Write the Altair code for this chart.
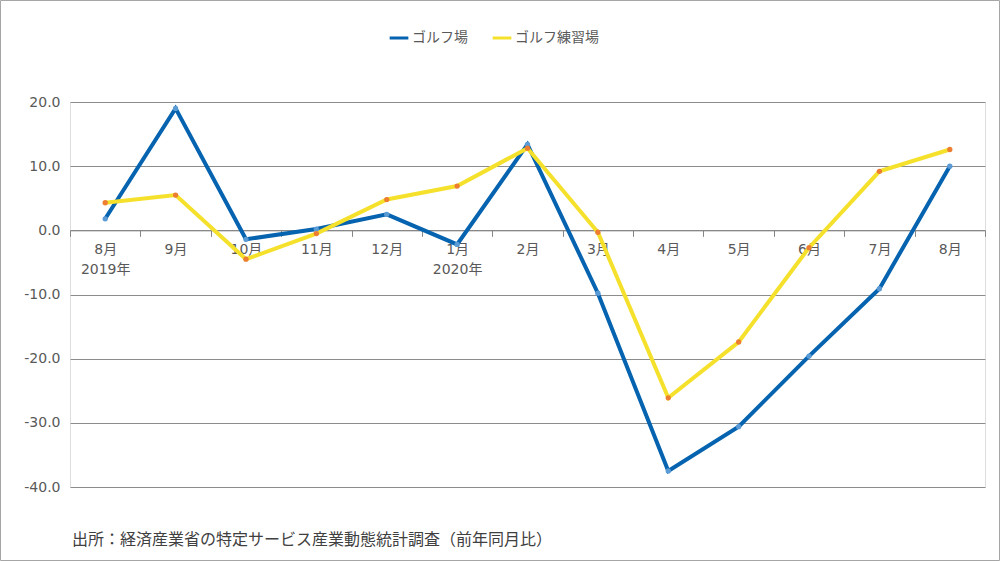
import altair as alt
import pandas as pd

# ---- data ----
months = ["2019-08", "2019-09", "2019-10", "2019-11", "2019-12", "2020-01", "2020-02",
          "2020-03", "2020-04", "2020-05", "2020-06", "2020-07", "2020-08"]
month_labels = ["8月", "9月", "10月", "11月", "12月", "1月", "2月",
                "3月", "4月", "5月", "6月", "7月", "8月"]
year_labels = ["2019年", "", "", "", "", "2020年", "", "", "", "", "", "", ""]
series_names = ["ゴルフ場", "ゴルフ練習場"]
golf_course = [1.8, 19.0, -1.4, 0.2, 2.5, -2.2, 13.4, -9.8, -37.5, -30.6, -19.6, -9.1, 10.0]
driving_range = [4.3, 5.5, -4.5, -0.5, 4.8, 6.9, 12.8, -0.3, -26.1, -17.4, -2.7, 9.2, 12.6]
y_ticks = [-40, -30, -20, -10, 0, 10, 20]
caption = "出所：経済産業省の特定サービス産業動態統計調査（前年同月比）"

rows = []
for name, vals in zip(series_names, [golf_course, driving_range]):
    for m, v in zip(months, vals):
        rows.append({"month": m, "series": name, "value": v})
df = pd.DataFrame(rows)

# label expression (month + optional year on second line)
expr = "''"
for m, ml, yl in zip(reversed(months), reversed(month_labels), reversed(year_labels)):
    lab = f"['{ml}','{yl}']" if yl else f"'{ml}'"
    expr = f"datum.value == '{m}' ? {lab} : ({expr})"

FONT = "Verdana, DejaVu Sans, Noto Sans CJK JP"
TXT = "#595959"
W, H = 915, 385
y_min, y_max = -40, 20
axis_offset = -H * (0 - y_min) / (y_max - y_min)

x_enc = alt.X(
    "month:O", sort=months, bandPosition=0.5,
    scale=alt.Scale(type="band", paddingInner=0, paddingOuter=0),
    axis=alt.Axis(title=None, orient="bottom", offset=axis_offset, tickBand="extent",
                  labelAngle=0, labelExpr=expr, labelLineHeight=20, labelPadding=6,
                  domainColor="#868686", tickColor="#868686", tickSize=6,
                  labelFont=FONT, labelFontSize=14, labelColor=TXT, grid=False),
)
y_enc = alt.Y(
    "value:Q",
    scale=alt.Scale(domain=[y_min, y_max], nice=False, zero=False),
    axis=alt.Axis(title=None, values=y_ticks, labelExpr="replace(format(datum.value, '.1f'), '\u2212', '-')",
                  domain=False, ticks=False,
                  labelPadding=10, labelFont=FONT, labelFontSize=14, labelColor=TXT,
                  grid=True, gridColor="#8C8C8C", gridWidth=1),
)

base = alt.Chart(df)

lines = base.mark_line(strokeWidth=4).encode(
    x=x_enc, y=y_enc,
    color=alt.Color("series:N", sort=series_names,
                    scale=alt.Scale(domain=series_names, range=["#0563AF", "#F5E12B"]),
                    legend=alt.Legend(title=None, orient="none", direction="horizontal",
                                      legendX=318, legendY=-75, symbolType="stroke",
                                      symbolStrokeWidth=3, symbolSize=350,
                                      labelFont=FONT, labelFontSize=14, labelColor=TXT,
                                      columnPadding=18, labelOffset=2)),
    order=alt.Order("month:O"),
)

points = base.mark_circle(size=28, opacity=1).encode(
    x=x_enc, y=y_enc,
    fill=alt.Fill("series:N", scale=alt.Scale(domain=series_names, range=["#5B9BD5", "#ED7D31"]),
                  legend=None),
)

border = alt.Chart(alt.Data(values=[{}])).mark_rect(fill=None, stroke="#A6A6A6", strokeWidth=1).encode(
    x=alt.value(-69.5), x2=alt.value(W + 14.5), y=alt.value(-101.5), y2=alt.value(H + 73.5)
)

cap = alt.Chart(alt.Data(values=[{"t": caption}])).mark_text(
    align="left", baseline="middle", font=FONT, fontSize=16, color="#404040"
).encode(x=alt.value(2), y=alt.value(H + 53), text="t:N")

chart = alt.layer(lines, points, border, cap).resolve_scale(color="independent", fill="independent").properties(
    width=W, height=H,
    autosize=alt.AutoSizeParams(type="none"),
    padding={"left": 70, "top": 102, "right": 15, "bottom": 74},
).configure_view(stroke=None).configure(background="white")

chart.save("out.html", embed_options={"renderer": "svg", "actions": False})
